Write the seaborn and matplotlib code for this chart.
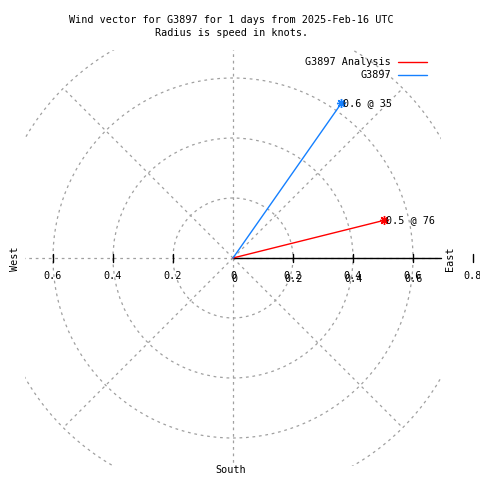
import numpy as np
import pandas as pd
import matplotlib
matplotlib.use("Agg")
import matplotlib.pyplot as plt
from matplotlib.lines import Line2D
from matplotlib.patches import Circle
import seaborn as sns

# ---- data ----
series_names = ["G3897 Analysis", "G3897"]
speeds_knots = [0.52, 0.63]
directions_deg = [76, 35]
series_colors = ["#ff0000", "#1580ff"]
ring_values = [0.2, 0.4, 0.6, 0.8]
tick_values = [0.2, 0.4, 0.6]
title_lines = ["Wind vector for G3897 for 1 days from 2025-Feb-16 UTC",
               "Radius is speed in knots."]

sns.set_style("white")
plt.rcParams["font.family"] = ["DejaVu Sans Mono", "DejaVu Sans"]
plt.rcParams["text.color"] = "black"
FS = 7.3

W = H = 480
fig = plt.figure(figsize=(4.8, 4.8), dpi=100)
fig.patch.set_facecolor("white")

cx, cy, scale = 233, 258, 300.0
half = 208 / scale
ax = fig.add_axes([(cx - 208) / W, (H - cy - 208) / H, 416 / W, 416 / H])
ax.set_xlim(-half, half)
ax.set_ylim(-half, half)
ax.set_aspect("equal")
ax.axis("off")

grid_kw = dict(color="#a0a0a0", lw=0.9, ls=(0, (2.2, 3.0)))
for r in ring_values:
    ax.add_patch(Circle((0, 0), r, fill=False, **grid_kw))
for a in range(0, 360, 45):
    t = np.deg2rad(a)
    rmax = ring_values[-1]
    if a % 90 == 0:
        rmax = 1.0
    ax.plot([0, rmax * np.cos(t)], [0, rmax * np.sin(t)], **grid_kw)

# solid r axis towards east
ax.plot([0, half], [0, 0], color="black", lw=1.0, clip_on=False)
tl = 4 / scale
for v in tick_values:
    for s in (-1, 1):
        ax.plot([s * v, s * v], [-tl, tl], color="black", lw=1.0)
ax.plot([0.8, 0.8], [-tl, tl], color="black", lw=1.0, clip_on=False)

lab_y = -18 / scale
for v in tick_values:
    ax.text(-v, lab_y, f"{v:.1f}", ha="center", va="center", fontsize=FS)
    ax.text(v, lab_y, f"{v:.1f}", ha="center", va="center", fontsize=FS)
    ax.text(v + 1 / scale, lab_y - 2.5 / scale, f"{v:.1f}", ha="center", va="center", fontsize=FS)
ax.text(0, lab_y, "0", ha="center", va="center", fontsize=FS)
ax.text(1 / scale, lab_y - 2.5 / scale, "0", ha="center", va="center", fontsize=FS)
ax.text(0.8, lab_y, "0.8", ha="center", va="center", fontsize=FS, clip_on=False)

# vectors
rows = []
for name, spd, d in zip(series_names, speeds_knots, directions_deg):
    t = np.deg2rad(d)
    rows.append(dict(series=name, x=0.0, y=0.0, order=0))
    rows.append(dict(series=name, x=spd * np.sin(t), y=spd * np.cos(t), order=1))
df = pd.DataFrame(rows)
pal = dict(zip(series_names, series_colors))
sns.lineplot(data=df, x="x", y="y", hue="series", units="series", estimator=None,
             sort=False, palette=pal, lw=1.0, legend=False, ax=ax)
ends = df[df.order == 1]
for _, row in ends.iterrows():
    ax.plot(row.x, row.y, marker=(8, 2, 0), ms=6.5, mew=1.0, color=pal[row.series])
for name, spd, d in zip(series_names, speeds_knots, directions_deg):
    t = np.deg2rad(d)
    ax.text(spd * np.sin(t) + 2 / scale, spd * np.cos(t), f"{spd:.1f} @ {d}",
            ha="left", va="center", fontsize=FS)

# compass labels
fig.text(15 / W, 1 - 259 / H, "West", rotation=90, ha="center", va="center", fontsize=FS)
fig.text(450 / W, 1 - 259 / H, "East", rotation=90, ha="center", va="center", fontsize=FS)
fig.text(231 / W, 1 - 470 / H, "South", ha="center", va="center", fontsize=FS)

# title
fig.text(231.5 / W, 1 - 20 / H, title_lines[0], ha="center", va="center", fontsize=FS)
fig.text(231.5 / W, 1 - 33 / H, title_lines[1], ha="center", va="center", fontsize=FS)

# legend
for i, (name, col) in enumerate(zip(series_names, series_colors)):
    yy = 1 - (62 + 13 * i) / H
    fig.text(391 / W, yy, name, ha="right", va="center", fontsize=FS)
    fig.add_artist(Line2D([398 / W, 427 / W], [yy, yy], color=col, lw=1.0,
                          transform=fig.transFigure))

fig.savefig("out.png", dpi=100, facecolor="white")
